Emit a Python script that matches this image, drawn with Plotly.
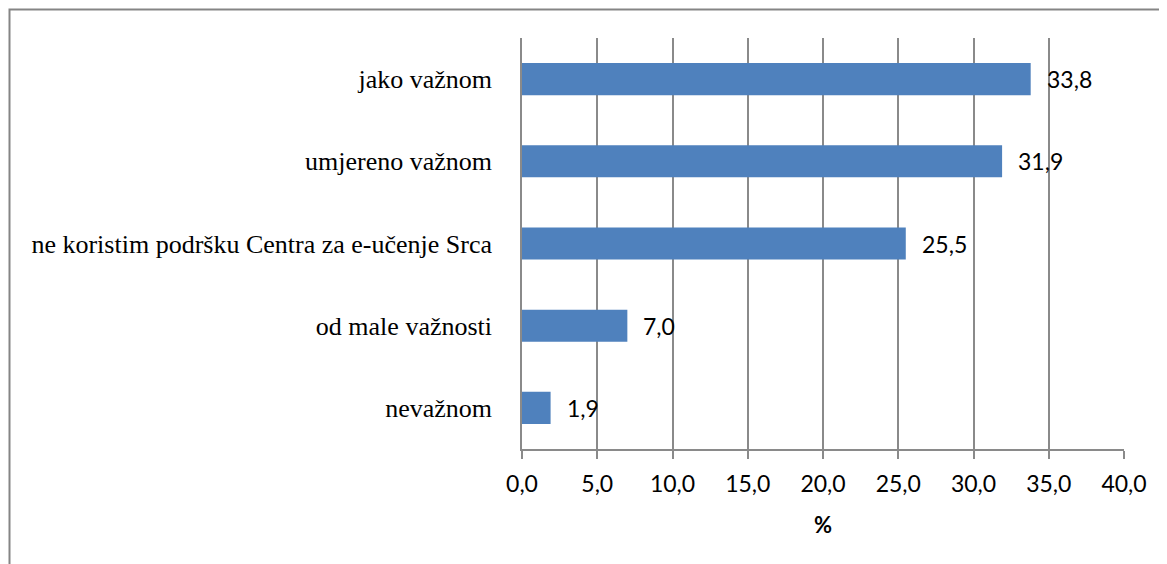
import plotly.graph_objects as go

categories = [
    "jako važnom",
    "umjereno važnom",
    "ne koristim podršku Centra za e-učenje Srca",
    "od male važnosti",
    "nevažnom",
]
values = [33.8, 31.9, 25.5, 7.0, 1.9]
tick_vals = [0, 5, 10, 15, 20, 25, 30, 35, 40]
tick_text = [f"{v:.1f}".replace(".", ",") for v in tick_vals]

BAR = "#4F81BD"
GRID = "#8a8a8a"
SANS = "Lato"
SERIF = "Liberation Serif, Times New Roman, serif"

# the page body adds an 8px margin, so the figure is 8px smaller
W, H = 1159, 556
L, R, T, B = 514, 43, 30, 115
PW, PH = W - L - R, H - T - B

fig = go.Figure(go.Bar(
    y=categories, x=values, orientation="h",
    marker_color=BAR, marker_line_width=0,
    hoverinfo="skip",
))

for cat, v in zip(categories, values):
    fig.add_annotation(
        x=v, y=cat, xref="x", yref="y",
        text=f"{v:.1f}".replace(".", ","),
        showarrow=False, xanchor="left", xshift=14,
        font=dict(family=SANS, size=23, color="#000"),
    )

fig.add_annotation(
    x=0.5, y=-75 / PH, xref="paper", yref="paper",
    text="<b>%</b>", showarrow=False, yanchor="middle",
    font=dict(family=SANS, size=22, color="#000"),
)

# outer chart frame
fig.add_shape(
    type="rect", xref="paper", yref="paper",
    x0=(1.5 - L) / PW, x1=2, y0=-2, y1=1 + (T - 1.5) / PH,
    line=dict(color="#858585", width=2), fillcolor="rgba(0,0,0,0)",
)

fig.update_layout(
    width=W, height=H,
    margin=dict(l=L, r=R, t=T, b=B),
    plot_bgcolor="white", paper_bgcolor="white",
    bargap=0.61, showlegend=False,
    xaxis=dict(
        range=[0, 40], tickvals=tick_vals, ticktext=tick_text,
        showgrid=True, gridcolor=GRID, gridwidth=1.5,
        showline=True, linecolor=GRID, linewidth=1.5,
        ticks="outside", ticklen=8, tickcolor=GRID, tickwidth=1.5,
        ticklabelstandoff=6,
        tickfont=dict(family=SANS, size=23, color="#000"),
        zeroline=False, fixedrange=True,
    ),
    yaxis=dict(
        autorange="reversed", showgrid=False,
        showline=True, linecolor=GRID, linewidth=1.5,
        ticks="", ticklabelstandoff=23,
        tickfont=dict(family=SERIF, size=26, color="#000"),
        fixedrange=True,
    ),
)

fig.write_html("out.html")
